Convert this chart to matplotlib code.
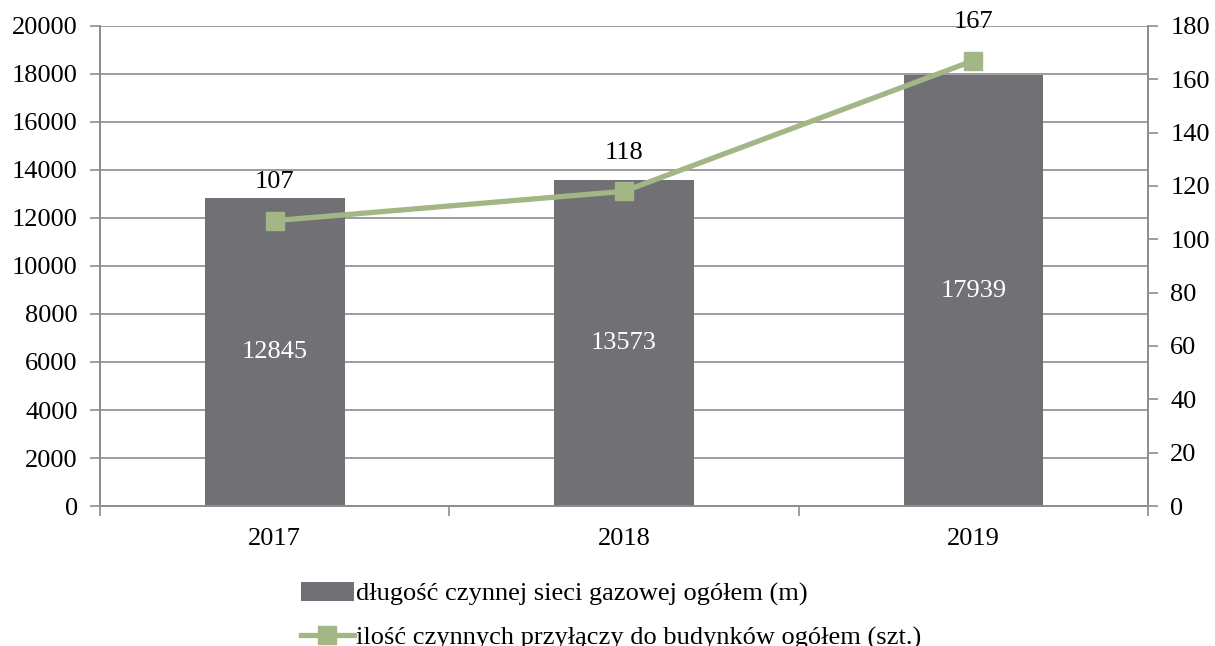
import numpy as np
import matplotlib.pyplot as plt

plt.rcParams['font.family'] = ['Liberation Serif', 'DejaVu Serif']

# dane
years = ['2017', '2018', '2019']
siec_m = [12845, 13573, 17939]
przylacza = [107, 118, 167]

bar_color = '#717075'
line_color = '#a3b686'
axis_color = '#8c8c8c'
fs = 19

fig = plt.figure(figsize=(12.15, 6.46), dpi=100)
ax = fig.add_axes([0.0823, 0.2167, 0.8626, 0.7431])
ax2 = ax.twinx()

x = np.arange(len(years))
bars = ax.bar(x, siec_m, width=0.4, color=bar_color, zorder=2,
              label='długość czynnej sieci gazowej ogółem (m)')
for xi, v in zip(x, siec_m):
    ax.text(xi, v / 2, str(v), color='white', ha='center', va='center', fontsize=fs)

line, = ax2.plot(x, przylacza, color=line_color, lw=3.8, marker='s', markersize=13,
                 zorder=3, label='ilość czynnych przyłączy do budynków ogółem (szt.)')
for xi, v in zip(x, przylacza):
    ax2.text(xi, v + 14.5, str(v), color='black', ha='center', va='center', fontsize=fs)

ax.set_xlim(-0.5, 2.5)
ax.set_ylim(0, 20000)
ax.set_yticks(np.arange(0, 20001, 2000))
ax2.set_ylim(0, 180)
ax2.set_yticks(np.arange(0, 181, 20))

ax.set_xticks(x)
ax.set_xticklabels(years)
ax.set_xticks([-0.5, 0.5, 1.5, 2.5], minor=True)
ax.tick_params(axis='x', which='major', length=0, pad=16, labelsize=fs)
ax.tick_params(axis='x', which='minor', length=7, color=axis_color, width=1.2)
ax.tick_params(axis='y', length=7, color=axis_color, width=1.2, labelsize=fs, pad=9)
ax2.tick_params(axis='y', length=7, color=axis_color, width=1.2, labelsize=fs, pad=9)

ax.grid(axis='y', color=axis_color, lw=1.2, zorder=0)
ax.set_axisbelow(True)

for a in (ax, ax2):
    a.spines['top'].set_visible(False)
    for s in ('left', 'right', 'bottom'):
        a.spines[s].set_color(axis_color)
        a.spines[s].set_linewidth(1.2)

fig.legend([bars, line], [bars.get_label(), line.get_label()],
           loc='upper left', bbox_to_anchor=(0.239, 0.115), frameon=False,
           fontsize=fs, handlelength=2.0, handletextpad=0.1, labelspacing=0.75,
           borderaxespad=0)

fig.savefig('out.png', dpi=100)
